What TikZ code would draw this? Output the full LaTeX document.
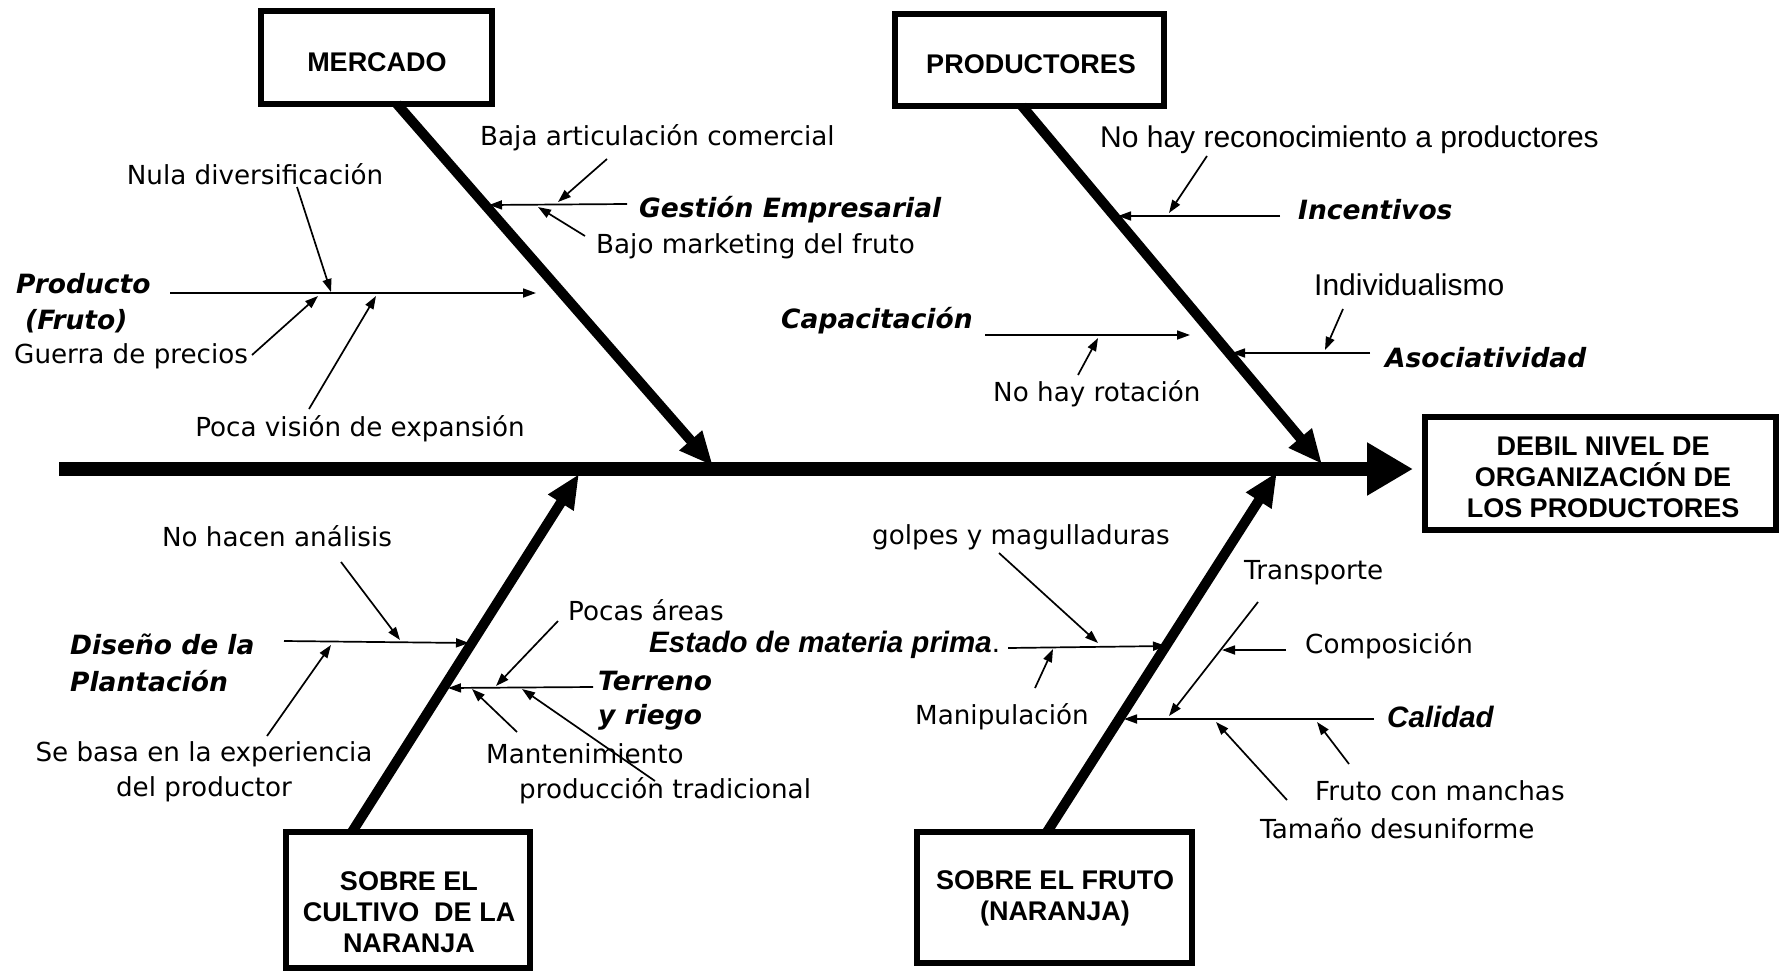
\documentclass[tikz,border=0pt]{standalone}
\usepackage{fontspec}
\setmainfont{DejaVu Sans}
\newfontfamily\arialf{Liberation Sans}
\usetikzlibrary{arrows.meta}
\begin{document}
\begin{tikzpicture}[x=1pt,y=-1pt,
  tah/.style={inner sep=0pt, font=\fontsize{26.2}{35}\selectfont},
  tahbi/.style={inner sep=0pt, font=\fontsize{26.5}{35}\selectfont\bfseries\itshape},
  ari/.style={inner sep=0pt, font=\arialf\fontsize{30}{34}\selectfont},
  aribi/.style={inner sep=0pt, font=\arialf\fontsize{29.5}{34}\selectfont\bfseries\itshape},
  boxtxt/.style={inner sep=0pt, font=\arialf\fontsize{27}{31}\selectfont\bfseries, align=center},
  catbox/.style={draw, line width=5.5pt},
  spine/.style={line width=14pt, -{Triangle[length=46pt,width=50pt]}},
  bone/.style={line width=10pt, -{Triangle[length=34pt,width=28pt]}},
  twig/.style={line width=1.7pt, -{Triangle[length=13pt,width=9pt]}},
]
\useasboundingbox (0,0) rectangle (1780,972);

% ---------- boxes ----------
\draw[catbox] (261,11) rectangle (492,104);
\node[boxtxt] (mercado) at (377,62) {MERCADO};
\draw[catbox] (895,14) rectangle (1164,106);
\node[boxtxt] (productores) at (1031,64) {PRODUCTORES};
\draw[catbox] (1425,417) rectangle (1776,530);
\node[boxtxt] (efecto) at (1603,477) {DEBIL NIVEL DE\\ORGANIZACIÓN DE\\LOS PRODUCTORES};
\draw[catbox] (286,832) rectangle (530,968);
\node[boxtxt] (cultivo) at (409,912) {SOBRE EL\\CULTIVO \ DE LA\\NARANJA};
\draw[catbox] (917,832) rectangle (1192,963);
\node[boxtxt] (fruto) at (1055,898) {SOBRE EL FRUTO\\(NARANJA)};

% ---------- spine and bones ----------
\coordinate (sp0) at (59,469);
\coordinate (sp1) at (1413,469);
\draw[spine] (sp0) -- (sp1);

\coordinate (bM0) at (397,104);  \coordinate (bM1) at (713,466);
\coordinate (bP0) at (1022,106); \coordinate (bP1) at (1322,464);
\coordinate (bC0) at (352,832);  \coordinate (bC1) at (579,474);
\coordinate (bF0) at (1047,832); \coordinate (bF1) at (1277,472);
\draw[bone] (bM0) -- (bM1);
\draw[bone] (bP0) -- (bP1);
\draw[bone] (bC0) -- (bC1);
\draw[bone] (bF0) -- (bF1);

% ---------- MERCADO: Producto (Fruto) ----------
\node[tahbi, anchor=west] (producto) at (16,284) {Producto};
\node[tahbi, anchor=west] (fruto2) at (25,321) {(Fruto)};
\coordinate (pr0) at (170,293); \coordinate (pr1) at (536,293);
\draw[twig] (pr0) -- (pr1);
\node[tah] (nula) at (255,174) {Nula diversificación};
\coordinate (nu0) at (297,187); \coordinate (nu1) at (331,292);
\draw[twig] (nu0) -- (nu1);
\node[tah, anchor=west] (guerra) at (14,356) {Guerra de precios};
\coordinate (gu0) at (252,355); \coordinate (gu1) at (318,296);
\draw[twig] (gu0) -- (gu1);
\node[tah] (poca) at (360,429) {Poca visión de expansión};
\coordinate (po0) at (309,409); \coordinate (po1) at (376,296);
\draw[twig] (po0) -- (po1);

% ---------- MERCADO: Gestión Empresarial ----------
\node[tahbi, anchor=west] (gestion) at (639,210) {Gestión Empresarial};
\coordinate (ge0) at (627,204); \coordinate (ge1) at (489,205);
\draw[twig] (ge0) -- (ge1);
\node[tah, anchor=west] (baja) at (480,138) {Baja articulación comercial};
\coordinate (ba0) at (607,159); \coordinate (ba1) at (558,202);
\draw[twig] (ba0) -- (ba1);
\node[tah, anchor=west] (bajo) at (596,246) {Bajo marketing del fruto};
\coordinate (bj0) at (585,236); \coordinate (bj1) at (538,207);
\draw[twig] (bj0) -- (bj1);

% ---------- PRODUCTORES: Incentivos ----------
\node[tahbi, anchor=west] (incent) at (1298,210) {Incentivos};
\coordinate (in0) at (1280,216); \coordinate (in1) at (1118,216);
\draw[twig] (in0) -- (in1);
\node[ari, anchor=west] (recon) at (1100,140) {No hay reconocimiento a productores};
\coordinate (re0) at (1207,156); \coordinate (re1) at (1169,213);
\draw[twig] (re0) -- (re1);

% ---------- PRODUCTORES: Asociatividad ----------
\node[tahbi, anchor=west] (asoc) at (1385,358) {Asociatividad};
\coordinate (as0) at (1370,353); \coordinate (as1) at (1232,353);
\draw[twig] (as0) -- (as1);
\node[ari, anchor=west] (indiv) at (1314,285) {Individualismo};
\coordinate (id0) at (1343,309); \coordinate (id1) at (1325,350);
\draw[twig] (id0) -- (id1);

% ---------- PRODUCTORES: Capacitación ----------
\node[tahbi, anchor=west] (capac) at (781,321) {Capacitación};
\coordinate (ca0) at (985,335); \coordinate (ca1) at (1190,335);
\draw[twig] (ca0) -- (ca1);
\node[tah, anchor=west] (rotac) at (993,394) {No hay rotación};
\coordinate (ro0) at (1078,375); \coordinate (ro1) at (1098,338);
\draw[twig] (ro0) -- (ro1);

% ---------- CULTIVO: Diseño de la Plantación ----------
\node[tahbi, anchor=west] (diseno) at (70,644) {Diseño de la};
\node[tahbi, anchor=west] (plant) at (70,681) {Plantación};
\coordinate (di0) at (284,641); \coordinate (di1) at (469,643);
\draw[twig] (di0) -- (di1);
\node[tah] (analisis) at (277,536) {No hacen análisis};
\coordinate (an0) at (341,562); \coordinate (an1) at (400,640);
\draw[twig] (an0) -- (an1);
\node[tah, align=center] (basa) at (204,772) {Se basa en la experiencia\\del productor};
\coordinate (se0) at (267,736); \coordinate (se1) at (331,645);
\draw[twig] (se0) -- (se1);

% ---------- CULTIVO: Terreno y riego ----------
\node[tahbi, anchor=west] (terreno) at (598,681) {Terreno};
\node[tahbi, anchor=west] (riego) at (598,717) {y riego};
\coordinate (te0) at (593,687); \coordinate (te1) at (448,688);
\draw[twig] (te0) -- (te1);
\node[tah, anchor=west] (pocas) at (568,610) {Pocas áreas};
\coordinate (pa0) at (558,621); \coordinate (pa1) at (496,686);
\draw[twig] (pa0) -- (pa1);
\node[tah, anchor=west] (mant) at (486,754) {Mantenimiento};
\coordinate (ma0) at (517,732); \coordinate (ma1) at (472,689);
\draw[twig] (ma0) -- (ma1);
\node[tah, anchor=west] (trad) at (519,791) {producción tradicional};
\coordinate (tr0) at (655,781); \coordinate (tr1) at (522,689);
\draw[twig] (tr0) -- (tr1);

% ---------- FRUTO: Estado de materia prima ----------
\node[aribi, anchor=west] (estado) at (649,645) {Estado de materia prima\textmd{\textup{.}}};
\coordinate (es0) at (1008,648); \coordinate (es1) at (1166,646);
\draw[twig] (es0) -- (es1);
\node[tah, anchor=west] (golpes) at (872,537) {golpes y magulladuras};
\coordinate (go0) at (999,553); \coordinate (go1) at (1098,643);
\draw[twig] (go0) -- (go1);
\node[tah, anchor=west] (manip) at (915,717) {Manipulación};
\coordinate (mp0) at (1035,688); \coordinate (mp1) at (1053,649);
\draw[twig] (mp0) -- (mp1);

% ---------- FRUTO: Calidad ----------
\node[aribi, anchor=west] (calidad) at (1387,717) {Calidad};
\coordinate (cl0) at (1374,719); \coordinate (cl1) at (1124,719);
\draw[twig] (cl0) -- (cl1);
\node[tah, anchor=west] (transp) at (1244,573) {Transporte};
\coordinate (tp0) at (1258,602); \coordinate (tp1) at (1169,716);
\draw[twig] (tp0) -- (tp1);
\node[tah, anchor=west] (compos) at (1305,646) {Composición};
\coordinate (co0) at (1286,650); \coordinate (co1) at (1222,650);
\draw[twig] (co0) -- (co1);
\node[tah, anchor=west] (manchas) at (1315,791) {Fruto con manchas};
\coordinate (mc0) at (1349,764); \coordinate (mc1) at (1317,722);
\draw[twig] (mc0) -- (mc1);
\node[tah, anchor=west] (tamano) at (1260,828) {Tamaño desuniforme};
\coordinate (ta0) at (1287,800); \coordinate (ta1) at (1216,722);
\draw[twig] (ta0) -- (ta1);
\end{tikzpicture}
\end{document}
